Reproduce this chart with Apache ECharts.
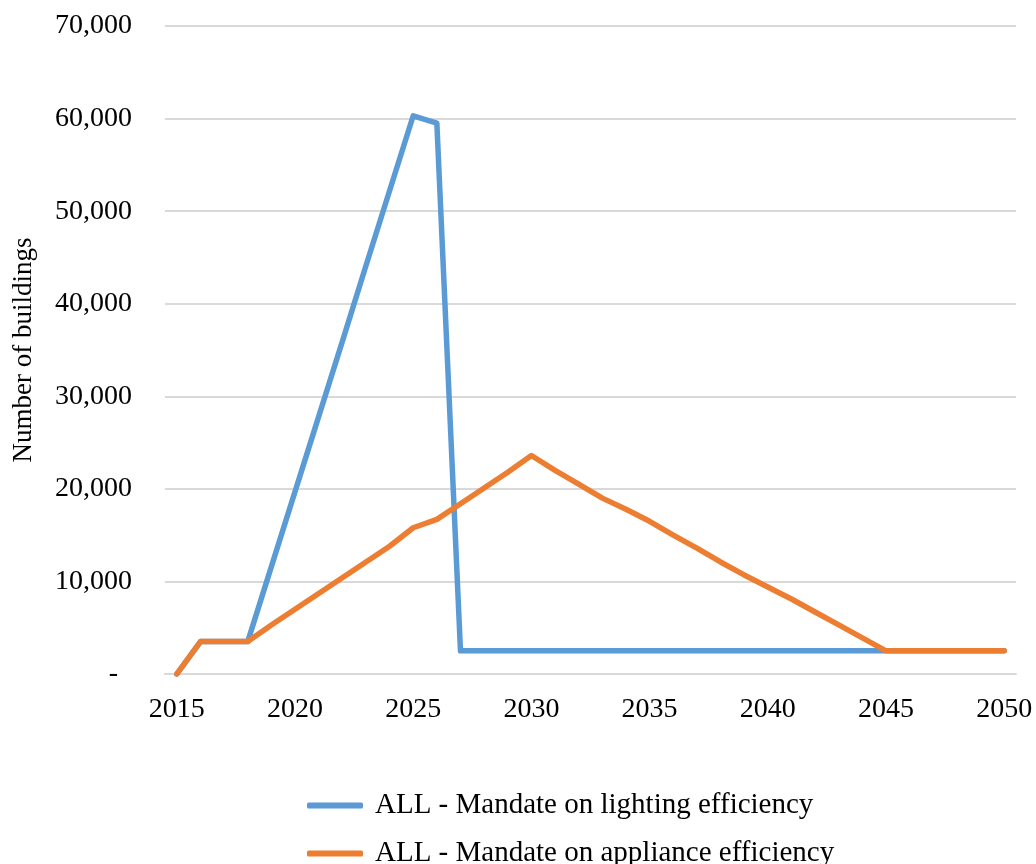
<!DOCTYPE html>
<html>
<head>
<meta charset="utf-8">
<script src="https://cdn.jsdelivr.net/npm/echarts@6/dist/echarts.min.js"></script>
<style>
  html, body { margin: 0; padding: 0; background: #ffffff; }
  #chart { width: 1036px; height: 864px; }
</style>
</head>
<body>
<div id="chart"></div>
<script>
// Years 2015–2050
const years = [];
for (let y = 2015; y <= 2050; y++) years.push(String(y));

const lightingName = 'ALL - Mandate on lighting efficiency';
const applianceName = 'ALL - Mandate on appliance efficiency';

// Number of buildings per year
const lightingValues = [
  0, 3500, 3500, 3500, 11600, 19700, 27800, 35900, 44100, 52200,
  60300, 59500, 2500, 2500, 2500, 2500, 2500, 2500, 2500, 2500,
  2500, 2500, 2500, 2500, 2500, 2500, 2500, 2500, 2500, 2500,
  2500, 2500, 2500, 2500, 2500, 2500
];
const applianceValues = [
  0, 3500, 3500, 3500, 5300, 7000, 8700, 10400, 12100, 13800,
  15800, 16700, 18400, 20100, 21800, 23600, 22000, 20500, 19000, 17800,
  16500, 15000, 13600, 12100, 10700, 9400, 8100, 6700, 5300, 3900,
  2500, 2500, 2500, 2500, 2500, 2500
];

const yTicks = { min: 0, max: 70000, interval: 10000 };

const serif = '"Liberation Serif", "Times New Roman", serif';
const lightingColor = '#5B9BD5';
const applianceColor = '#ED7D31';

const chart = echarts.init(document.getElementById('chart'), null, { renderer: 'canvas' });

// One legend block per row so the two entries stack
function legendRow(name, top) {
  return {
    orient: 'vertical',
    left: 302,
    top: top,
    itemWidth: 56,
    itemHeight: 6,
    itemGap: 0,
    icon: 'roundRect',
    textStyle: { fontFamily: serif, fontSize: 29, color: '#000000', padding: [0, 0, 0, 7] },
    data: [name]
  };
}

chart.setOption({
  backgroundColor: '#ffffff',
  animation: false,
  textStyle: { fontFamily: serif, color: '#000000' },
  grid: { left: 165, right: 20, top: 26, bottom: 190, containLabel: false, outerBoundsMode: 'none' },
  xAxis: {
    type: 'category',
    data: years,
    boundaryGap: true,
    axisLine: { show: true, lineStyle: { color: '#d9d9d9', width: 2 } },
    axisTick: { show: false },
    axisLabel: {
      interval: 4,
      margin: 22,
      fontFamily: serif,
      fontSize: 28,
      color: '#000000'
    },
    splitLine: { show: false }
  },
  yAxis: {
    type: 'value',
    min: yTicks.min,
    max: yTicks.max,
    interval: yTicks.interval,
    name: 'Number of buildings',
    nameLocation: 'middle',
    nameRotate: 90,
    nameGap: 128,
    nameTextStyle: { fontFamily: serif, fontSize: 27, color: '#000000' },
    axisLine: { show: false },
    axisTick: { show: false },
    axisLabel: {
      margin: 33,
      fontFamily: serif,
      fontSize: 28,
      color: '#000000',
      // accounting-style zero: a dash set in from the right edge
      formatter: function (v) {
        return v === 0 ? '-\u2002' : v.toLocaleString('en-US');
      }
    },
    splitLine: { show: true, lineStyle: { color: '#d9d9d9', width: 2 } }
  },
  legend: [
    legendRow(lightingName, 786),
    legendRow(applianceName, 834)
  ],
  series: [
    {
      name: lightingName,
      type: 'line',
      data: lightingValues,
      symbol: 'none',
      color: lightingColor,
      lineStyle: { width: 5.5, color: lightingColor, cap: 'round', join: 'round' },
      z: 2
    },
    {
      name: applianceName,
      type: 'line',
      data: applianceValues,
      symbol: 'none',
      color: applianceColor,
      lineStyle: { width: 5.5, color: applianceColor, cap: 'round', join: 'round' },
      z: 3
    }
  ]
});
</script>
</body>
</html>
